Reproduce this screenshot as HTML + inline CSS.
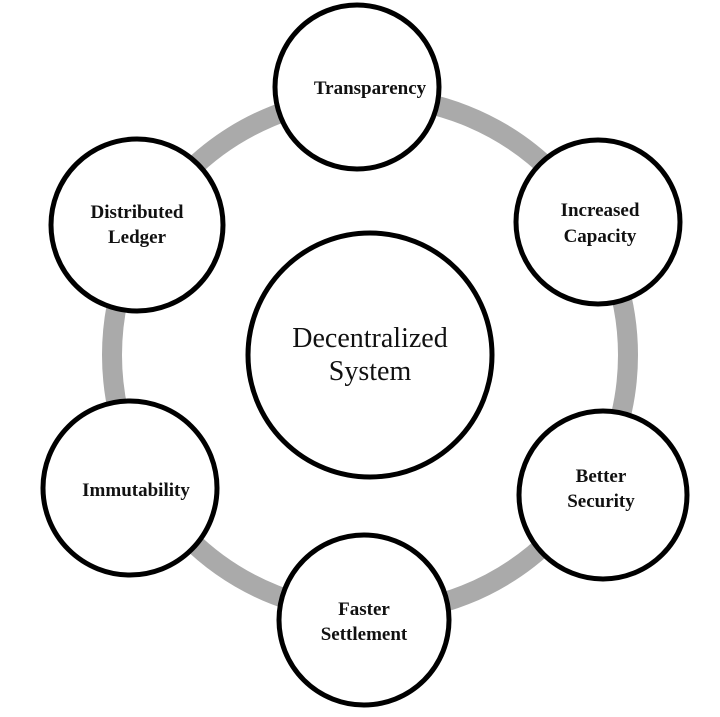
<!DOCTYPE html>
<html><head><style>body{margin:0;background:#fff}</style></head><body>
<svg width="720" height="712" xmlns="http://www.w3.org/2000/svg" font-family="Liberation Serif, serif">
<rect width="720" height="712" fill="#fff"/>
<circle cx="370" cy="355" r="258" fill="none" stroke="#aaa" stroke-width="20"/>
<g fill="#fff" stroke="#000" stroke-width="5">
<circle cx="370" cy="355" r="122"/>
<circle cx="357" cy="87" r="82"/>
<circle cx="598" cy="222" r="82"/>
<circle cx="137" cy="225" r="86"/>
<circle cx="130" cy="488" r="87"/>
<circle cx="603" cy="495" r="84"/>
<circle cx="364" cy="620" r="85"/>
</g>
<g font-weight="bold" font-size="19" text-anchor="middle" fill="#111">
<text x="370" y="94">Transparency</text>
<text x="600" y="216">Increased</text><text x="600" y="242">Capacity</text>
<text x="137" y="218">Distributed</text><text x="137" y="243">Ledger</text>
<text x="136" y="496">Immutability</text>
<text x="601" y="482">Better</text><text x="601" y="507">Security</text>
<text x="364" y="615">Faster</text><text x="364" y="640">Settlement</text>
</g>
<g font-size="28" text-anchor="middle" fill="#111">
<text x="370" y="347">Decentralized</text><text x="370" y="380">System</text>
</g>
</svg>
</body></html>
